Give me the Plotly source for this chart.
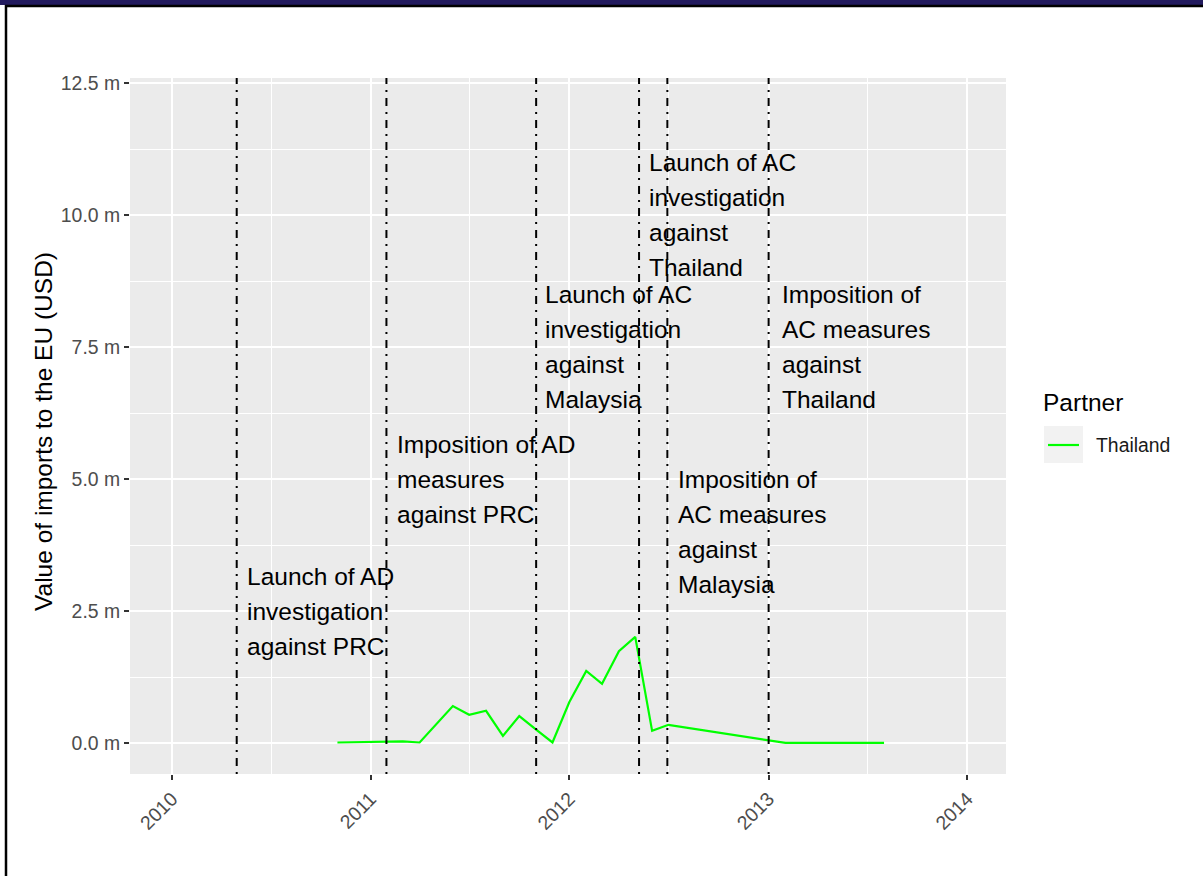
import plotly.graph_objects as go

# ---- data ----
dates = ["2010-11-01", "2011-02-01", "2011-03-01", "2011-04-01", "2011-06-01",
         "2011-07-01", "2011-08-01", "2011-09-01", "2011-10-01", "2011-11-01",
         "2011-12-01", "2012-01-01", "2012-02-01", "2012-03-01", "2012-04-01",
         "2012-05-01", "2012-06-01", "2012-07-01", "2013-01-01", "2013-02-01",
         "2013-08-01"]
thailand = [10000, 30000, 30000, 10000, 700000,
            535000, 610000, 135000, 510000, 255000,
            10000, 775000, 1365000, 1120000, 1740000,
            2010000, 230000, 345000, 55000, 2000,
            2000]
partner_name = "Thailand"

event_dates = ["2010-04-30", "2011-01-30", "2011-11-01", "2012-05-08", "2012-06-29", "2013-01-01"]
event_labels = [
    ["Launch of AD", "investigation", "against PRC"],
    ["Imposition of AD", "measures", "against PRC"],
    ["Launch of AC", "investigation", "against", "Malaysia"],
    ["Launch of AC", "investigation", "against", "Thailand"],
    ["Imposition of", "AC measures", "against", "Malaysia"],
    ["Imposition of", "AC measures", "against", "Thailand"],
]
label_dates = ["2010-05-15", "2011-02-14", "2011-11-13", "2012-05-23", "2012-07-15", "2013-01-21"]
label_y = [2.5e6, 5.0e6, 7.5e6, 10.0e6, 4.0e6, 7.5e6]

y_tick_vals = [0, 2.5e6, 5.0e6, 7.5e6, 10.0e6, 12.5e6]
y_tick_text = ["0.0 m", "2.5 m", "5.0 m", "7.5 m", "10.0 m", "12.5 m"]

# ---- layout constants ----
W, H = 1203, 876
ML, MR, MT, MB = 130, 197, 78, 102
PW, PH = W - ML - MR, H - MT - MB
FONT = "Liberation Sans, Arial, Helvetica, sans-serif"
LINE_COLOR = "#00FF00"
BIG = 24.5
SMALL = 19.4


def px_x(px):
    return (px - ML) / PW


def px_y(py):
    return (H - MB - py) / PH


fig = go.Figure()
fig.add_trace(go.Scatter(x=dates, y=thailand, mode="lines", name=partner_name,
                         line=dict(color=LINE_COLOR, width=2.2), showlegend=False))

shapes = []
annotations = []

# vertical event lines
for d in event_dates:
    shapes.append(dict(type="line", xref="x", yref="paper", x0=d, x1=d, y0=0, y1=1,
                       line=dict(color="black", width=2, dash="2px,6px,8px,6px"), layer="above"))

# event labels (one annotation per line)
LS = 35
for lines, d, yv in zip(event_labels, label_dates, label_y):
    n = len(lines)
    for i, t in enumerate(lines):
        annotations.append(dict(x=d, y=yv, xref="x", yref="y", text=t, showarrow=False,
                                xanchor="left", yanchor="middle",
                                yshift=-(i - (n - 1) / 2) * LS,
                                font=dict(family=FONT, size=BIG, color="black")))

# frame: navy band at top, black borders
shapes.append(dict(type="rect", xref="paper", yref="paper", x0=px_x(0), x1=px_x(W),
                   y0=px_y(5), y1=px_y(0), fillcolor="#221a5e", line=dict(width=0), layer="above"))
shapes.append(dict(type="line", xref="paper", yref="paper", x0=px_x(5), x1=px_x(W),
                   y0=px_y(6), y1=px_y(6), line=dict(color="black", width=2.5)))
shapes.append(dict(type="line", xref="paper", yref="paper", x0=px_x(6), x1=px_x(6),
                   y0=px_y(5), y1=px_y(H), line=dict(color="black", width=2.5)))

# manual legend
shapes.append(dict(type="rect", xref="paper", yref="paper", x0=px_x(1044), x1=px_x(1083),
                   y0=px_y(463), y1=px_y(426), fillcolor="#F2F2F2", line=dict(width=0)))
shapes.append(dict(type="line", xref="paper", yref="paper", x0=px_x(1048), x1=px_x(1079),
                   y0=px_y(445), y1=px_y(445), line=dict(color=LINE_COLOR, width=2.2)))
annotations.append(dict(x=px_x(1041), y=px_y(402), xref="paper", yref="paper", text="Partner",
                        showarrow=False, xanchor="left", yanchor="middle",
                        font=dict(family=FONT, size=BIG, color="black")))
annotations.append(dict(x=px_x(1094), y=px_y(445), xref="paper", yref="paper", text=partner_name,
                        showarrow=False, xanchor="left", yanchor="middle",
                        font=dict(family=FONT, size=SMALL, color="#1A1A1A")))

# y-axis title
annotations.append(dict(x=px_x(43), y=px_y(432), xref="paper", yref="paper",
                        text="Value of imports to the EU (USD)", textangle=-90, showarrow=False,
                        xanchor="center", yanchor="middle",
                        font=dict(family=FONT, size=BIG, color="black")))

fig.update_layout(
    width=W, height=H,
    margin=dict(l=ML, r=MR, t=MT, b=MB, autoexpand=False),
    paper_bgcolor="white", plot_bgcolor="#EBEBEB",
    font=dict(family=FONT),
    shapes=shapes, annotations=annotations,
    showlegend=False,
)
fig.update_xaxes(
    type="date", range=["2009-10-16", "2014-03-13"],
    tick0="2010-01-01", dtick="M12", tickformat="%Y", tickangle=-45,
    showgrid=True, gridcolor="white", gridwidth=2,
    minor=dict(dtick="M6", tick0="2010-07-02", showgrid=True, gridcolor="white", gridwidth=1, ticklen=0),
    ticks="outside", ticklen=5, tickwidth=1.5, tickcolor="#333333",
    tickfont=dict(family=FONT, size=SMALL, color="#4D4D4D"),
    zeroline=False, showline=False, fixedrange=True,
)
fig.update_yaxes(
    range=[-0.587e6, 12.595e6],
    tickmode="array", tickvals=y_tick_vals, ticktext=y_tick_text,
    showgrid=True, gridcolor="white", gridwidth=2,
    minor=dict(tickmode="linear", tick0=1.25e6, dtick=2.5e6, showgrid=True, gridcolor="white", gridwidth=1, ticklen=0),
    ticks="outside", ticklen=5, tickwidth=1.5, tickcolor="#333333",
    tickfont=dict(family=FONT, size=SMALL, color="#4D4D4D"),
    zeroline=False, showline=False, fixedrange=True,
)

fig.write_html("out.html", config={"displayModeBar": False},
               post_script="document.body.style.margin='0';document.body.style.overflow='hidden';")
